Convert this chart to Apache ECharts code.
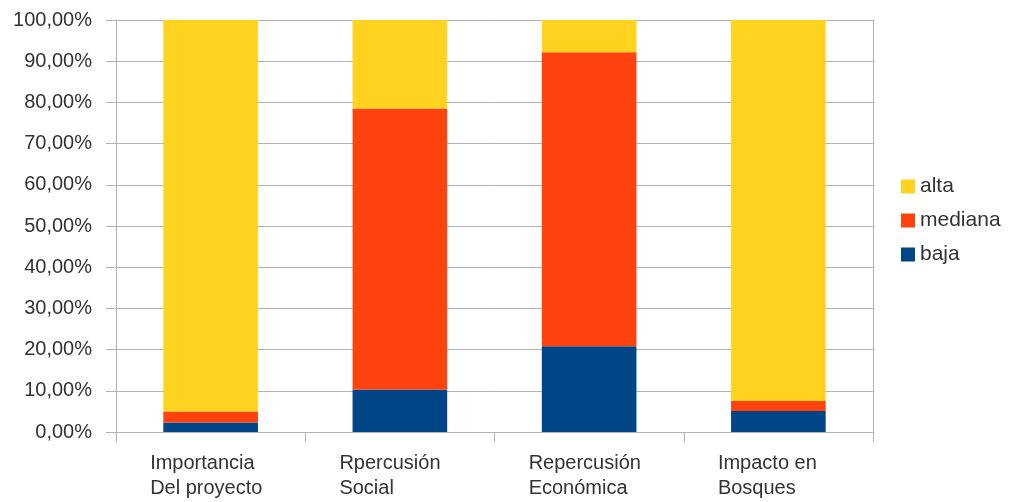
<!DOCTYPE html>
<html>
<head>
<meta charset="utf-8">
<script src="https://cdn.jsdelivr.net/npm/echarts@6/dist/echarts.min.js"></script>
<style>html,body{margin:0;padding:0;background:#fff;}#c{width:1009px;height:502px;}</style>
</head>
<body>
<div id="c"></div>
<script>
var categories = ['Importancia\nDel proyecto', 'Rpercusión\nSocial', 'Repercusión\nEconómica', 'Impacto en\nBosques'];
var baja = [2.3, 10.3, 20.8, 5.1];
var mediana = [2.7, 68.2, 71.4, 2.4];
var alta = [95.0, 21.5, 7.8, 92.5];
var yTicks = [0, 10, 20, 30, 40, 50, 60, 70, 80, 90, 100];

var FONT = '"Liberation Sans", Arial, sans-serif';
var TXT = '#333333';
var GRID = '#b3b3b3';

var chart = echarts.init(document.getElementById('c'));
chart.setOption({
  animation: false,
  backgroundColor: '#ffffff',
  textStyle: { fontFamily: FONT },
  grid: { left: 116, right: 136, top: 20, bottom: 70, containLabel: false },
  legend: {
    orient: 'vertical',
    left: 901,
    top: 176,
    padding: 0,
    data: ['alta', 'mediana', 'baja'],
    icon: 'rect',
    itemWidth: 14,
    itemHeight: 14,
    itemGap: 13,
    textStyle: { fontSize: 21, color: TXT, fontFamily: FONT, lineHeight: 20 }
  },
  xAxis: {
    type: 'category',
    data: categories,
    axisLine: { show: true, lineStyle: { color: GRID, width: 1 } },
    axisTick: { show: true, length: 10, alignWithLabel: false, lineStyle: { color: GRID } },
    axisLabel: {
      margin: 19,
      color: TXT,
      fontSize: 20,
      fontFamily: FONT,
      formatter: function (v) {
        return v.split('\n').map(function (s) { return '{a|' + s + '}'; }).join('\n');
      },
      rich: { a: { width: 121, align: 'left', fontSize: 20, lineHeight: 25, color: TXT, fontFamily: FONT } }
    }
  },
  yAxis: [{
    type: 'value',
    min: 0,
    max: 100,
    interval: 10,
    axisLine: { show: true, lineStyle: { color: GRID, width: 1 } },
    axisTick: { show: true, length: 10, lineStyle: { color: GRID } },
    splitLine: { show: true, lineStyle: { color: GRID, width: 1 } },
    axisLabel: {
      margin: 24,
      color: TXT,
      fontSize: 20,
      fontFamily: FONT,
      customValues: yTicks,
      formatter: function (v) { return v.toFixed(2).replace('.', ',') + '%'; }
    }
  }, {
    type: 'value',
    position: 'right',
    min: 0,
    max: 100,
    interval: 10,
    axisLine: { show: true, lineStyle: { color: GRID, width: 1 } },
    axisTick: { show: false },
    splitLine: { show: false },
    axisLabel: { show: false }
  }],
  series: [
    { name: 'baja', type: 'bar', stack: 's', data: baja, barWidth: '50%', itemStyle: { color: '#004586' } },
    { name: 'mediana', type: 'bar', stack: 's', data: mediana, barWidth: '50%', itemStyle: { color: '#ff420e' } },
    { name: 'alta', type: 'bar', stack: 's', data: alta, barWidth: '50%', itemStyle: { color: '#ffd320' } }
  ]
});
</script>
</body>
</html>
